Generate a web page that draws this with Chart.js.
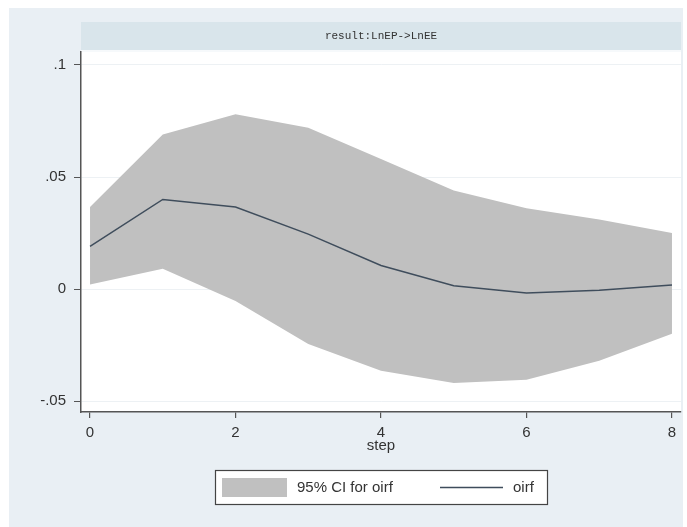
<!DOCTYPE html>
<html lang="en">
<head>
<meta charset="UTF-8">
<title>result:LnEP->LnEE</title>
<script src="https://cdn.jsdelivr.net/npm/chart.js"></script>
<style>
    body { margin: 0; background: #ffffff; }
    canvas { display: block; }
</style>
</head>
<body>
<canvas id="irf" width="687" height="527"></canvas>
<script>
// Данные графика
const steps = [0, 1, 2, 3, 4, 5, 6, 7, 8];
const oirf = [0.019, 0.040, 0.0366, 0.0245, 0.0105, 0.0015, -0.0018, -0.0005, 0.0018];
const ciUpper = [0.0366, 0.069, 0.078, 0.072, 0.058, 0.0440, 0.036, 0.031, 0.0250];
const ciLower = [0.002, 0.009, -0.0054, -0.0246, -0.0365, -0.042, -0.0405, -0.032, -0.020];
const xTicks = [0, 2, 4, 6, 8];
const yTicks = [-0.05, 0, 0.05, 0.1];
const yTickLabels = ['-.05', '0', '.05', '.1'];
const panelTitle = 'result:LnEP->LnEE';
const xTitle = 'step';
const ciLabel = '95% CI for oirf';
const lineLabel = 'oirf';

const fillColor = '#c0c0c0';
const lineColor = '#3f4d5c';
const axisColor = '#555555';
const textColor = '#333333';
const tickFont = { family: '"Liberation Sans", Arial, sans-serif', size: 15 };

const pts = arr => steps.map((s, i) => ({ x: s, y: arr[i] }));

// Фон, полоса заголовка и легенда в рамке
const stataFrame = {
    id: 'stataFrame',
    beforeDraw(chart) {
        const ctx = chart.ctx;
        const a = chart.chartArea;
        ctx.save();
        ctx.fillStyle = '#ffffff';
        ctx.fillRect(0, 0, chart.width, chart.height);
        ctx.fillStyle = '#e9eff4';
        ctx.fillRect(9, 8, 674, chart.height - 8);
        ctx.fillStyle = '#d9e5eb';
        ctx.fillRect(a.left, 22, a.right - a.left, 28);
        ctx.fillStyle = '#f6f9fb';
        ctx.fillRect(a.left, 50, a.right - a.left, 2);
        ctx.fillStyle = '#ffffff';
        ctx.fillRect(a.left, a.top, a.right - a.left, a.bottom - a.top);
        ctx.fillStyle = '#333333';
        ctx.font = '11px "Liberation Mono", "DejaVu Sans Mono", monospace';
        ctx.textAlign = 'center';
        ctx.textBaseline = 'middle';
        ctx.fillText(panelTitle, (a.left + a.right) / 2, 36);
        ctx.restore();
    },
    afterDraw(chart) {
        const ctx = chart.ctx;
        ctx.save();
        // рамка легенды
        ctx.fillStyle = '#ffffff';
        ctx.fillRect(215, 470, 332, 34);
        ctx.strokeStyle = '#444444';
        ctx.lineWidth = 1.2;
        ctx.strokeRect(215.5, 470.5, 332, 34);
        ctx.fillStyle = fillColor;
        ctx.fillRect(222, 478, 65, 19);
        ctx.fillStyle = textColor;
        ctx.font = '15px "Liberation Sans", Arial, sans-serif';
        ctx.textAlign = 'left';
        ctx.textBaseline = 'middle';
        ctx.fillText(ciLabel, 297, 488);
        ctx.strokeStyle = lineColor;
        ctx.lineWidth = 1.5;
        ctx.beginPath();
        ctx.moveTo(440, 487.5);
        ctx.lineTo(503, 487.5);
        ctx.stroke();
        ctx.fillText(lineLabel, 513, 488);
        ctx.restore();
    }
};

new Chart(document.getElementById('irf'), {
    type: 'line',
    data: {
        datasets: [
            { label: ciLabel, data: pts(ciUpper), borderWidth: 0, pointRadius: 0,
              backgroundColor: fillColor, fill: '+1', tension: 0, order: 2 },
            { label: 'lower', data: pts(ciLower), borderWidth: 0, pointRadius: 0,
              fill: false, tension: 0, order: 2 },
            { label: lineLabel, data: pts(oirf), borderColor: lineColor, borderWidth: 1.5,
              pointRadius: 0, fill: false, tension: 0, order: 0 }
        ]
    },
    options: {
        responsive: false,
        animation: false,
        events: [],
        layout: { padding: { left: 0, top: 52, right: 6, bottom: 70 } },
        plugins: {
            legend: { display: false },
            title: { display: false },
            tooltip: { enabled: false },
            filler: { drawTime: 'beforeDatasetsDraw' }
        },
        scales: {
            x: {
                type: 'linear',
                min: -0.124,
                max: 8.124,
                afterBuildTicks: s => { s.ticks = xTicks.map(v => ({ value: v })); },
                afterFit: s => { s.height = 45; },
                ticks: { font: tickFont, color: textColor, padding: 6, maxRotation: 0 },
                grid: { drawOnChartArea: false, tickLength: 6, color: axisColor, tickColor: axisColor, lineWidth: 1.2 },
                border: { display: true, color: axisColor, width: 1.5 },
                title: { display: true, text: xTitle, font: tickFont, color: textColor, padding: { top: 0, bottom: 2 } }
            },
            y: {
                min: -0.0549,
                max: 0.1058,
                afterBuildTicks: s => { s.ticks = yTicks.map(v => ({ value: v })); },
                afterFit: s => { s.width = 81; },
                ticks: {
                    font: tickFont, color: textColor, padding: 8,
                    callback: v => yTickLabels[yTicks.indexOf(v)]
                },
                grid: { color: '#edf1f4', tickColor: axisColor, tickLength: 7, lineWidth: 1 },
                border: { display: true, color: axisColor, width: 1.5 }
            }
        }
    },
    plugins: [stataFrame]
});
</script>
</body>
</html>
